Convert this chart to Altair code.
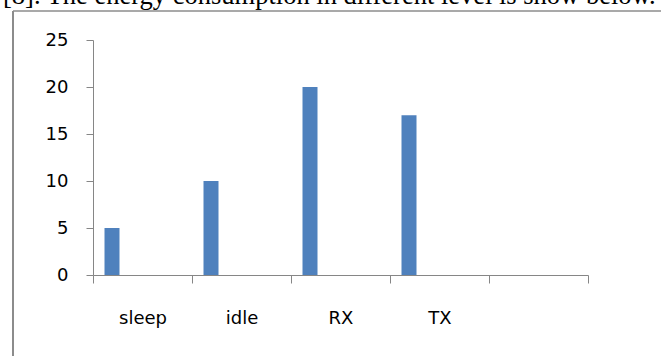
import altair as alt
import pandas as pd

categories = ["sleep", "idle", "RX", "TX"]
axis_domain = ["sleep", "idle", "RX", "TX", ""]
values = [5, 10, 20, 17]
y_ticks = [0, 5, 10, 15, 20, 25]
caption = "[8]. The energy consumption in different level is show below."

df = pd.DataFrame({"level": categories, "value": values})

grey = "#868686"

bars = alt.Chart(df).mark_bar(width=15, color="#4F81BD").encode(
    x=alt.X(
        "level:N",
        sort=None,
        scale=alt.Scale(domain=axis_domain, paddingInner=0, paddingOuter=0),
        axis=alt.Axis(
            title=None,
            labelAngle=0,
            tickBand="extent",
            tickSize=8,
            tickColor=grey,
            domainColor=grey,
            labelFont="DejaVu Sans",
            labelFontSize=18,
            labelColor="black",
            labelPadding=26,
            grid=False,
        ),
    ),
    xOffset=alt.value(19),
    y=alt.Y(
        "value:Q",
        scale=alt.Scale(domain=[0, 25], nice=False),
        axis=alt.Axis(
            title=None,
            values=y_ticks,
            tickSize=7,
            tickColor=grey,
            domainColor=grey,
            labelFont="DejaVu Sans",
            labelFontSize=18,
            labelColor="black",
            labelPadding=18,
            grid=False,
        ),
    ),
)

one = alt.Data(values=[{}])

frame_top = alt.Chart(one).mark_rule(color="#8c8c8c", strokeWidth=1.5).encode(
    x=alt.value(-80), x2=alt.value(700), y=alt.value(-29)
)
frame_left = alt.Chart(one).mark_rule(color="#8c8c8c", strokeWidth=2).encode(
    x=alt.value(-80), y=alt.value(-29), y2=alt.value(400)
)

text_df = pd.DataFrame({"t": [caption]})
title_text = alt.Chart(text_df).mark_text(
    font="Liberation Serif", fontSize=26.5, align="left", baseline="alphabetic", color="black"
).encode(x=alt.value(-90), y=alt.value(-36), text="t:N")

chart = alt.layer(frame_top, frame_left, title_text, bars).properties(
    width=495,
    height=235,
    background="white",
    autosize=alt.AutoSizeParams(type="none"),
    padding={"left": 93, "top": 40, "right": 73, "bottom": 81},
).configure_view(stroke="transparent", strokeWidth=0)

chart.save("out.html", embed_options={"renderer": "svg", "actions": False})
